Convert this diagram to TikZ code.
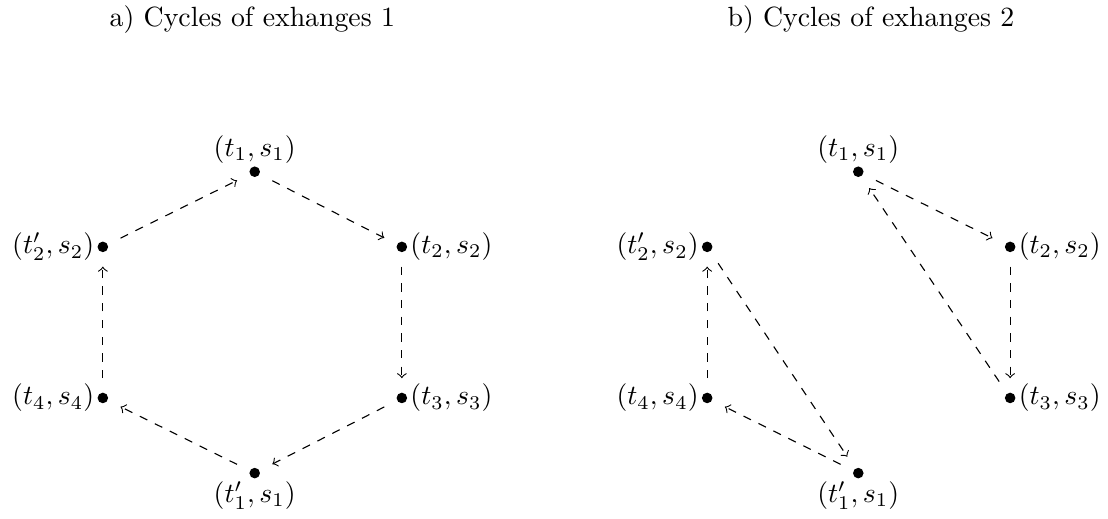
\documentclass[tikz,border=0pt]{standalone}
\begin{document}
\begin{tikzpicture}[
  dot/.style={circle,fill=black,inner sep=0pt,minimum size=3.8pt},
  arr/.style={->,dashed,shorten >=5pt,shorten <=5pt},
  ttl/.style={inner sep=0pt,anchor=base},
  every label/.style={inner sep=0.8pt}
]
\useasboundingbox (0,0) rectangle (14.007,6.561);
% titles
\node[ttl] (ta) at (3.19,6.22) {a) Cycles of exhanges 1};
\node[ttl] (tb) at (11.01,6.22) {b) Cycles of exhanges 2};
% left hexagon
\node[dot,label={[label distance=0pt]above:$(t_1,s_1)$}] (a1) at (3.22,4.39) {};
\node[dot,label={[label distance=0pt]right:$(t_2,s_2)$}] (a2) at (5.08,3.44) {};
\node[dot,label={[label distance=0pt]right:$(t_3,s_3)$}] (a3) at (5.08,1.53) {};
\node[dot,label={[label distance=0pt]below:$(t'_1,s_1)$}] (a4) at (3.22,0.58) {};
\node[dot,label={[label distance=0pt]left:$(t_4,s_4)$}] (a5) at (1.30,1.53) {};
\node[dot,label={[label distance=0pt]left:$(t'_2,s_2)$}] (a6) at (1.30,3.44) {};
\draw[arr] (a6) -- (a1);
\draw[arr] (a1) -- (a2);
\draw[arr] (a2) -- (a3);
\draw[arr] (a3) -- (a4);
\draw[arr] (a4) -- (a5);
\draw[arr] (a5) -- (a6);
% right
\node[dot,label={[label distance=0pt]above:$(t_1,s_1)$}] (b1) at (10.85,4.39) {};
\node[dot,label={[label distance=0pt]right:$(t_2,s_2)$}] (b2) at (12.77,3.44) {};
\node[dot,label={[label distance=0pt]right:$(t_3,s_3)$}] (b3) at (12.77,1.53) {};
\node[dot,label={[label distance=0pt]below:$(t'_1,s_1)$}] (b4) at (10.85,0.58) {};
\node[dot,label={[label distance=0pt]left:$(t_4,s_4)$}] (b5) at (8.94,1.53) {};
\node[dot,label={[label distance=0pt]left:$(t'_2,s_2)$}] (b6) at (8.94,3.44) {};
\draw[arr] (b1) -- (b2);
\draw[arr] (b2) -- (b3);
\draw[arr] (b3) -- (b1);
\draw[arr] (b4) -- (b5);
\draw[arr] (b5) -- (b6);
\draw[arr] (b6) -- (b4);
\end{tikzpicture}
\end{document}
